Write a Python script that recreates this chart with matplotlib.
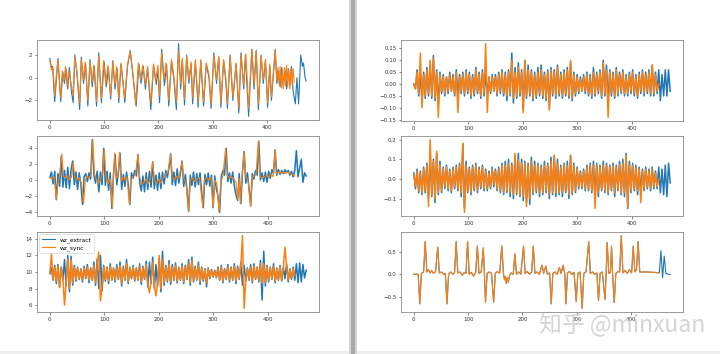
import numpy as np
import matplotlib
matplotlib.use("Agg")
import matplotlib.pyplot as plt
from matplotlib.patches import Rectangle

BLUE = "#1f77b4"
ORANGE = "#ff7f0e"

# ---------------- panel 1 (left, top): keypoints (t, value) ----------------
p1_blue_t = [0,3,5,9,15,20,24,27,30,33,36,40,43,46,50,55,58,62,66,70,74,78,82,86,90,95,100,104,108,112,116,120,124,127,131,135,138,143,148,153,159,164,168,172,176,180,186,191,196,199,202,206,211,215,219,224,228,233,237,241,244,248,252,256,260,263,268,273,278,283,288,293,297,302,307,311,315,320,324,327,332,337,343,348,352,357,360,366,372,376,380,384,389,393,397,401,405,408,412,415,418,421,424,427,430,433,436,439,442,445,448,452,455,458,462,465,467,470,472]
p1_blue_v = [1.7,0.9,1.0,-2.1,1.7,-2.1,0.5,-0.5,0.8,-1.0,0.9,-1.3,-2.2,2.0,0.3,-2.8,1.8,-0.5,1.2,-2.5,1.6,-0.8,1.0,-2.5,2.2,-2.2,1.4,-0.8,0.9,-1.9,1.5,-1.0,0.8,-2.2,1.2,-0.5,-2.2,1.0,2.4,0.2,-2.5,1.2,-0.5,1.0,-1.0,0.8,-2.8,1.1,-0.6,0.8,-2.2,2.5,-0.7,1.2,-2.5,1.5,0.0,-2.8,3.0,-1.0,1.6,-2.4,2.0,-0.5,1.2,-2.3,1.4,-2.6,1.5,-2.5,1.2,0.0,-2.7,2.2,-0.5,1.8,-2.6,1.5,-0.3,-2.7,2.0,-2.0,1.2,-3.1,2.2,-1.0,2.0,-3.4,2.5,-1.0,2.4,-2.8,2.0,-0.5,1.5,-2.6,1.0,-2.0,0.5,2.5,-0.5,0.6,-0.8,0.9,-0.9,0.7,-1.0,0.8,-0.7,1.0,-1.2,-2.3,0.0,-2.3,2.0,1.0,1.3,0.0,-0.3]
p1_orange_t = [0,3,6,9,12,15,20,23,26,29,32,35,38,41,43,46,50,55,58,62,65,70,74,78,81,86,90,95,99,103,107,112,116,120,123,127,131,134,138,143,148,153,158,163,167,171,176,180,186,191,195,199,202,206,210,214,219,224,228,233,237,241,244,248,252,256,260,263,268,273,278,283,288,293,297,302,307,311,315,320,324,327,332,337,343,348,352,357,361,366,372,376,380,384,389,393,397,401,405,408,412,415,418,420,422,424,426,428,430,432,434,436,438,440,442,444,446,448,450]
p1_orange_v = [1.5,0.7,0.9,-1.6,0.2,1.6,-1.8,0.6,-0.3,1.0,-0.8,0.6,-0.2,-1.0,-1.6,1.8,0.5,-2.2,1.6,-0.2,1.4,-2.0,1.4,-0.4,1.1,-2.1,1.9,-1.8,1.5,-0.5,1.1,-1.6,1.4,-0.6,1.0,-1.8,1.3,-0.2,-1.8,1.2,2.3,0.4,-2.4,1.3,-0.2,1.1,-0.6,1.0,-2.2,1.2,-0.3,1.1,-1.6,2.2,-0.2,1.3,-2.0,1.6,0.3,-2.2,2.4,-0.5,1.7,-1.9,1.9,-0.2,1.4,-1.8,1.6,-2.2,1.6,-2.1,1.3,0.3,-2.3,2.0,-0.2,1.9,-2.2,1.6,0.0,-2.3,1.9,-1.7,1.3,-2.6,2.0,-0.6,2.1,-2.7,2.5,-0.6,2.3,-2.3,1.9,-0.2,1.6,-2.2,1.2,-1.7,0.7,2.4,-0.3,0.9,-0.6,1.0,-0.9,0.8,-1.0,0.9,-0.7,1.1,-0.8,0.7,-1.0,0.9,-0.6,0.8,-0.4]

# ---------------- panel 2 (left, middle) ----------------
p2_step = 3
p2_blue = [0.3,1.0,-0.5,1.1,-2.5,0.8,-0.8,3.0,-0.9,1.2,-1.0,1.6,-1.1,1.3,2.4,-0.6,1.0,-1.2,0.9,-0.5,-3.1,0.4,0.8,-0.2,0.9,0.1,5.1,0.6,-0.4,1.1,-1.5,1.0,-0.6,4.0,-0.7,1.1,-1.3,0.9,-3.6,0.8,3.2,-0.6,0.9,3.4,-1.2,0.7,-0.8,1.0,-0.5,-3.1,0.9,0.2,1.2,0.5,3.2,-0.3,-1.4,0.5,-1.5,0.9,-1.2,1.1,-0.9,2.3,-1.1,0.6,-1.3,0.9,-1.1,1.0,-0.5,1.2,0.3,1.6,3.3,-0.6,1.0,-0.7,1.4,-0.4,0.9,2.4,-0.8,0.7,-1.3,-4.0,0.6,-0.7,1.0,-0.9,0.8,-0.6,0.9,-1.5,-3.5,0.7,-0.6,0.9,-0.8,0.6,-3.5,0.5,-1.2,-2.0,-4.1,0.4,1.2,0.6,4.0,-0.2,0.9,-0.4,1.0,-0.8,-1.9,-2.6,0.8,-3.0,1.1,3.6,-0.4,0.9,-1.0,-3.3,0.8,0.1,1.2,0.6,4.9,0.0,0.9,-0.2,1.0,-0.3,1.1,0.2,1.3,0.8,3.8,0.6,1.3,0.7,1.2,0.8,1.3,0.9,1.2,0.6,1.1,0.4,1.2,3.7,0.4,1.5,2.6,-0.3,0.9,0.5]
p2_orange_t = [0,4,8,12,15,18,22,25,28,32,36,40,43,46,50,54,58,62,65,68,72,76,79,82,86,90,94,97,100,103,107,111,115,117,119,122,125,128,131,134,138,142,146,149,153,157,162,165,169,173,177,181,185,189,192,196,200,204,208,212,217,222,225,229,233,237,243,246,250,255,258,262,266,270,275,281,284,288,292,296,300,303,307,311,314,318,323,326,330,334,338,342,345,348,350,353,357,360,364,369,372,376,379,383,386,390,394,398,402,406,410,414,416,420,424,428,432,436,440,444,448,450]
p2_orange_v = [0.3,0.1,0.4,-2.4,-0.3,0.5,3.3,0.5,0.2,0.6,0.0,0.4,2.2,0.3,0.0,0.3,-0.4,-3.0,-0.2,0.5,0.2,0.8,5.1,0.8,0.0,-0.4,0.2,0.8,3.9,0.5,-0.5,0.2,-3.6,0.3,3.4,0.2,0.5,3.5,-0.2,0.3,0.0,0.4,-3.0,0.2,0.4,0.6,3.2,0.4,-0.6,-0.3,0.1,-0.5,0.3,2.3,0.1,-0.5,0.1,-0.4,0.3,0.6,1.0,3.2,0.4,0.0,0.5,0.2,2.3,0.2,-0.3,-4.0,0.0,0.3,-0.2,0.1,0.3,-3.5,0.0,0.3,0.0,0.3,-3.5,0.0,-0.5,-4.1,-0.3,0.5,4.0,0.6,0.2,0.4,0.1,-0.3,-2.5,0.2,-3.0,0.3,3.6,0.4,0.0,-3.3,0.3,0.5,0.8,4.9,0.5,0.2,0.4,0.6,0.3,0.8,0.4,3.8,0.8,1.0,0.9,1.0,0.8,1.0,0.9,0.7,0.6,0.5]

# ---------------- panel 3 (left, bottom) ----------------
p3_step = 3
p3_blue = [9.8,10.5,9.0,10.8,8.6,10.9,8.2,10.6,9.0,11.5,8.3,12.0,7.6,11.9,8.4,10.8,8.9,10.6,9.1,10.4,8.8,10.7,9.2,10.9,8.7,10.5,9.0,11.2,8.4,11.6,8.0,12.0,7.7,10.8,8.9,10.6,8.6,11.0,9.0,10.5,8.8,10.9,9.1,11.2,8.3,10.7,9.0,11.5,8.6,10.6,9.2,10.8,8.9,10.5,9.0,11.0,8.5,10.7,9.1,11.3,8.2,11.2,8.6,11.8,8.0,10.9,8.3,11.6,7.6,12.5,8.4,10.8,8.8,11.4,8.5,10.9,9.0,11.1,8.7,10.6,9.0,11.0,8.6,10.8,9.1,11.5,8.4,11.8,8.8,10.7,9.0,11.2,8.5,10.6,8.9,10.4,8.2,10.5,9.2,10.3,9.4,10.2,9.3,10.6,9.0,10.8,8.7,10.4,9.1,10.9,8.8,10.6,9.0,11.0,8.6,10.7,9.1,11.2,8.4,10.8,8.9,10.5,9.0,10.9,8.7,11.0,9.1,10.6,8.8,11.4,6.6,12.5,8.3,10.8,8.8,10.6,9.1,11.0,8.7,10.5,9.0,10.8,8.9,10.6,9.2,11.0,8.8,10.4,9.1,10.6,9.0,11.0,8.7,11.1,8.8,10.9,9.3,10.2]
p3_orange = [9.8,12.2,9.1,10.6,8.9,10.7,8.1,10.5,9.2,6.0,8.8,11.6,8.0,11.5,8.7,10.6,9.1,10.5,9.2,10.3,9.0,10.5,9.3,10.6,9.0,10.4,9.1,10.8,8.7,11.0,12.4,6.5,8.2,10.6,9.1,10.5,8.9,10.7,9.1,10.4,9.0,10.6,9.2,10.8,8.6,10.5,9.1,11.0,8.8,10.5,9.3,10.6,9.0,10.4,9.1,10.7,8.8,10.5,9.2,10.9,8.5,7.5,8.9,11.2,8.4,7.1,8.6,12.0,8.0,11.5,8.7,10.6,9.0,11.0,8.8,10.6,9.1,10.8,8.9,10.5,9.1,10.7,8.8,10.6,9.2,11.0,8.7,11.4,9.0,10.5,9.1,10.8,8.8,10.5,9.1,10.3,8.6,10.4,9.3,10.2,9.4,10.1,9.4,10.4,9.1,10.6,8.9,10.3,9.2,10.6,9.0,10.5,9.1,10.7,8.9,10.5,9.2,10.9,14.4,5.6,9.1,10.4,9.1,10.6,8.9,10.7,9.2,10.5,9.0,11.0,8.6,11.0,8.7,10.6,9.0,10.5,9.2,10.7,8.9,10.4,9.1,10.6,9.0,10.5,13.0,10.7,9.0,10.3,9.2,10.4,9.6]

# ---------------- panel 4 (right, top) ----------------
p4_step = 3
p4_blue = [0.00,-0.02,0.06,-0.05,0.04,-0.07,0.05,-0.06,0.07,-0.05,0.09,-0.06,0.12,-0.07,0.06,-0.09,0.05,-0.04,0.04,-0.05,0.03,-0.04,0.05,-0.03,0.04,-0.05,0.06,-0.06,0.04,-0.04,0.05,-0.05,0.06,-0.04,0.05,-0.06,0.04,-0.05,0.07,-0.04,0.05,-0.06,0.06,-0.05,0.04,-0.04,0.03,-0.04,0.04,-0.03,0.04,-0.05,0.05,-0.04,0.06,-0.05,0.05,-0.07,0.06,-0.05,0.13,-0.08,0.07,-0.06,0.09,-0.05,0.06,-0.11,0.10,-0.06,0.08,-0.05,0.06,-0.07,0.05,-0.06,0.07,-0.05,0.08,-0.06,0.05,-0.07,0.06,-0.10,0.07,-0.05,0.06,-0.06,0.08,-0.05,0.05,-0.06,0.06,-0.05,0.07,-0.06,0.09,-0.07,0.05,-0.05,0.04,-0.04,0.03,-0.03,0.04,-0.04,0.05,-0.05,0.04,-0.06,0.07,-0.05,0.05,-0.04,0.06,-0.06,0.10,-0.05,0.08,-0.07,0.06,-0.05,0.05,-0.06,0.07,-0.05,0.05,-0.04,0.06,-0.05,0.04,-0.05,0.05,-0.04,0.06,-0.05,0.04,-0.06,0.05,-0.04,0.06,-0.05,0.05,-0.04,0.06,-0.05,0.08,-0.05,0.05,-0.04,0.06,-0.07,0.04,-0.05,0.06,-0.05,0.06,-0.03]
p4_orange = [0.00,-0.02,0.05,-0.04,0.13,-0.10,0.04,-0.05,0.06,-0.04,0.10,-0.05,0.11,-0.06,0.05,-0.14,0.04,-0.03,0.03,-0.04,0.03,-0.03,0.04,-0.03,0.03,-0.04,0.05,-0.12,0.03,-0.03,0.04,-0.04,0.05,-0.03,0.04,-0.05,0.03,-0.04,0.06,-0.03,0.04,-0.05,0.05,-0.04,0.17,-0.12,0.03,-0.03,0.03,-0.03,0.03,-0.04,0.04,-0.03,0.05,-0.04,0.04,-0.05,0.05,-0.04,0.10,-0.06,0.05,-0.05,0.07,-0.04,0.05,-0.12,0.10,-0.05,0.06,-0.04,0.05,-0.06,0.04,-0.05,0.05,-0.04,0.06,-0.05,0.04,-0.06,0.05,-0.11,0.06,-0.04,0.05,-0.05,0.07,-0.04,0.04,-0.05,0.05,-0.04,0.06,-0.05,0.10,-0.06,0.04,-0.04,0.03,-0.03,0.02,-0.03,0.03,-0.03,0.04,-0.04,0.03,-0.05,0.05,-0.04,0.04,-0.03,0.05,-0.05,0.09,-0.04,0.06,-0.14,0.05,-0.04,0.04,-0.05,0.06,-0.04,0.04,-0.03,0.05,-0.04,0.03,-0.04,0.04,-0.03,0.05,-0.04,0.03,-0.05,0.04,-0.03,0.05,-0.04,0.04,-0.03,0.05,-0.04,0.08,-0.04,0.04,-0.03,0.00]

# ---------------- panel 5 (right, middle) ----------------
p5_step = 3
p5_blue = [0.03,-0.05,0.05,-0.07,0.04,-0.08,0.06,-0.07,0.08,-0.10,0.12,-0.09,0.10,-0.12,0.13,-0.08,0.09,-0.07,0.06,-0.05,0.07,-0.06,0.05,-0.07,0.06,-0.05,0.07,-0.06,0.08,-0.09,0.18,-0.15,0.09,-0.07,0.06,-0.08,0.07,-0.06,0.08,-0.07,0.06,-0.05,0.07,-0.06,0.05,-0.06,0.04,-0.05,0.06,-0.04,0.05,-0.06,0.06,-0.07,0.08,-0.08,0.09,-0.07,0.10,-0.09,0.08,-0.10,0.12,-0.08,0.13,-0.09,0.10,-0.11,0.09,-0.12,0.08,-0.13,0.11,-0.08,0.09,-0.07,0.08,-0.09,0.07,-0.08,0.09,-0.07,0.08,-0.10,0.11,-0.08,0.12,-0.09,0.10,-0.08,0.07,-0.09,0.08,-0.07,0.09,-0.10,0.12,-0.08,0.08,-0.07,0.06,-0.05,0.04,-0.05,0.05,-0.06,0.07,-0.06,0.08,-0.07,0.09,-0.10,0.08,-0.09,0.07,-0.06,0.09,-0.07,0.08,-0.08,0.07,-0.06,0.08,-0.09,0.07,-0.06,0.09,-0.08,0.10,-0.09,0.13,-0.15,0.09,-0.07,0.08,-0.06,0.07,-0.08,0.06,-0.07,0.05,-0.06,0.06,-0.05,0.05,-0.06,0.06,-0.05,0.04,-0.05,0.06,-0.07,0.05,-0.08,0.07,-0.09,0.08,-0.02]
p5_orange = [0.02,-0.04,0.04,-0.06,0.03,-0.07,0.05,-0.06,0.07,-0.14,0.20,-0.08,0.09,-0.10,0.14,-0.07,0.07,-0.06,0.05,-0.04,0.06,-0.05,0.04,-0.06,0.05,-0.04,0.06,-0.05,0.07,-0.07,0.18,-0.17,0.07,-0.06,0.05,-0.07,0.06,-0.05,0.07,-0.06,0.05,-0.04,0.06,-0.05,0.04,-0.05,0.03,-0.04,0.05,-0.03,0.04,-0.05,0.05,-0.06,0.07,-0.07,0.07,-0.06,0.08,-0.07,0.07,-0.08,0.13,-0.07,0.10,-0.08,0.08,-0.09,0.08,-0.14,0.07,-0.10,0.09,-0.07,0.07,-0.06,0.07,-0.07,0.06,-0.07,0.07,-0.06,0.07,-0.08,0.09,-0.07,0.12,-0.07,0.08,-0.07,0.06,-0.07,0.07,-0.06,0.07,-0.08,0.12,-0.07,0.07,-0.06,0.05,-0.04,0.03,-0.04,0.04,-0.05,0.06,-0.05,0.07,-0.06,0.07,-0.15,0.07,-0.07,0.06,-0.05,0.07,-0.06,0.07,-0.07,0.06,-0.05,0.07,-0.07,0.06,-0.05,0.07,-0.07,0.08,-0.07,0.12,-0.14,0.07,-0.06,0.07,-0.05,0.06,-0.06,0.05,-0.12,0.04,-0.05,0.05,-0.04,0.04,-0.05,0.05,-0.04,0.03,-0.04,0.00]

# ---------------- panel 6 (right, bottom): keypoints ----------------
p6_t = [0,8,11,14,18,21,24,27,30,33,36,40,44,47,51,55,58,61,64,68,72,75,78,81,85,89,93,96,99,102,106,110,114,117,120,124,128,130,132,135,139,143,147,150,154,158,162,165,167,169,170,172,174,176,179,183,186,189,193,197,202,205,209,213,217,220,223,227,231,236,239,243,246,250,253,256,260,264,268,271,275,278,280,283,287,291,295,299,302,306,310,313,317,322,325,329,333,337,340,343,347,352,354,356,359,362,364,366,369,372,376,379,382,385,389,393,397,401,404,407,410,413,416,430,445,450]
p6_v = [0.0,0.0,-0.65,0.02,0.05,0.72,0.05,0.1,0.03,0.08,0.02,0.06,0.6,0.03,0.05,0.0,0.02,-0.65,0.0,0.05,0.0,0.04,0.72,0.03,0.05,-0.02,0.04,0.02,0.72,0.0,0.04,-0.04,0.05,0.62,0.02,0.05,0.58,0.0,-0.62,0.02,0.05,0.02,-0.62,0.02,0.06,0.02,0.62,0.02,-0.12,-0.05,-0.2,-0.08,-0.18,-0.04,0.03,0.0,0.45,0.0,0.05,0.0,0.62,0.02,0.06,0.0,0.05,0.62,0.02,0.05,0.0,0.2,0.02,0.18,0.0,0.03,-0.65,0.02,0.05,0.0,0.15,0.02,0.2,0.0,-0.65,0.03,0.06,0.0,0.04,-0.6,0.02,0.05,-0.75,0.02,0.05,0.72,0.02,0.05,0.0,0.03,-0.58,0.02,0.05,-0.55,0.0,0.7,0.02,0.04,0.62,0.0,-0.62,0.02,0.06,0.05,0.85,0.03,0.08,0.02,0.1,0.03,0.62,0.05,0.1,0.72,0.05,0.05,0.04,0.03]
p6_blue_tail_t = [452,455,458,461,464,468,472]
p6_blue_tail_v = [0.03,0.52,-0.08,0.4,0.02,0.0,0.0]

LABELS = ["wz_extract", "wz_sync"]

# ---------------- figure ----------------
fig = plt.figure(figsize=(7.2, 3.54), dpi=100)
fig.patch.set_facecolor("white")
W, H = 720.0, 354.0

# separator between the two screenshots and bottom strip
fig.add_artist(Rectangle((349 / W, 0), 8 / W, 1, transform=fig.transFigure,
                         facecolor="#d4d4d4", edgecolor="none", zorder=0))
fig.add_artist(Rectangle((351 / W, 0), 3.5 / W, 1, transform=fig.transFigure,
                         facecolor="#a9a9a9", edgecolor="none", zorder=0))
fig.add_artist(Rectangle((0, 0), 349 / W, 3.5 / H, transform=fig.transFigure,
                         facecolor="#eeeeee", edgecolor="none", zorder=0))
fig.add_artist(Rectangle((357 / W, 0), 363 / W, 3.5 / H, transform=fig.transFigure,
                         facecolor="#eeeeee", edgecolor="none", zorder=0))

def make_ax(x0, x1, ytop, ybot):
    ax = fig.add_axes([x0 / W, 1 - ybot / H, (x1 - x0) / W, (ybot - ytop) / H])
    for s in ax.spines.values():
        s.set_linewidth(0.6)
        s.set_color("#8a8a8a")
    ax.tick_params(labelsize=4.0, length=1.8, width=0.5, pad=1.5,
                   colors="#555555", labelcolor="#333333")
    ax.set_xticks([0, 100, 200, 300, 400])
    return ax

rows = [(40, 120), (136, 216), (232, 312)]
LX = (37, 319)
RX = (401, 683)
lw = 0.8     # structured signals
nlw = 1.1    # dense noisy signals

def uniform_t(vals, step):
    return np.arange(len(vals)) * step

# panel 1
ax = make_ax(LX[0], LX[1], *rows[0])
ax.plot(p1_blue_t, p1_blue_v, color=BLUE, lw=lw)
ax.plot(p1_orange_t, p1_orange_v, color=ORANGE, lw=lw)
ax.set_yticks([-2, 0, 2])

# panel 2
ax = make_ax(LX[0], LX[1], *rows[1])
ax.plot(uniform_t(p2_blue, p2_step), p2_blue, color=BLUE, lw=nlw)
ax.plot(p2_orange_t, p2_orange_v, color=ORANGE, lw=lw)
ax.set_yticks([-4, -2, 0, 2, 4])

# panel 3
ax = make_ax(LX[0], LX[1], *rows[2])
ax.plot(uniform_t(p3_blue, p3_step), p3_blue, color=BLUE, lw=nlw, label=LABELS[0])
ax.plot(uniform_t(p3_orange, p3_step), p3_orange, color=ORANGE, lw=nlw, label=LABELS[1])
ax.set_yticks([6, 8, 10, 12, 14])
leg = ax.legend(loc="upper left", fontsize=4.2, frameon=True, handlelength=2.2,
                borderpad=0.45, labelspacing=0.4, handletextpad=0.8, borderaxespad=0.4)
leg.get_frame().set_linewidth(0.5)
for h in leg.get_lines():
    h.set_linewidth(0.8)

# panel 4
ax = make_ax(RX[0], RX[1], 40, 121)
ax.plot(uniform_t(p4_blue, p4_step), p4_blue, color=BLUE, lw=nlw)
ax.plot(uniform_t(p4_orange, p4_step), p4_orange, color=ORANGE, lw=nlw)
ax.set_yticks([-0.15, -0.10, -0.05, 0.0, 0.05, 0.10, 0.15])
ax.set_yticklabels(["−0.15", "−0.10", "−0.05", "0.00", "0.05", "0.10", "0.15"])

# panel 5
ax = make_ax(RX[0], RX[1], *rows[1])
ax.plot(uniform_t(p5_blue, p5_step), p5_blue, color=BLUE, lw=nlw)
ax.plot(uniform_t(p5_orange, p5_step), p5_orange, color=ORANGE, lw=nlw)
ax.set_yticks([-0.1, 0.0, 0.1, 0.2])

# panel 6
ax = make_ax(RX[0], RX[1], *rows[2])
ax.plot(list(p6_t) + p6_blue_tail_t, list(p6_v) + p6_blue_tail_v, color=BLUE, lw=lw)
ax.plot(p6_t, p6_v, color=ORANGE, lw=lw)
ax.set_yticks([-0.5, 0.0, 0.5])

# watermark
fig.text(622 / W, 1 - 324 / H, "知乎 @minxuan", ha="center", va="center",
         fontsize=16.5, color="#d2d2d2", alpha=0.95,
         family=["Noto Sans CJK SC", "DejaVu Sans"], zorder=10)

fig.savefig("out.png", dpi=100, facecolor="white")
